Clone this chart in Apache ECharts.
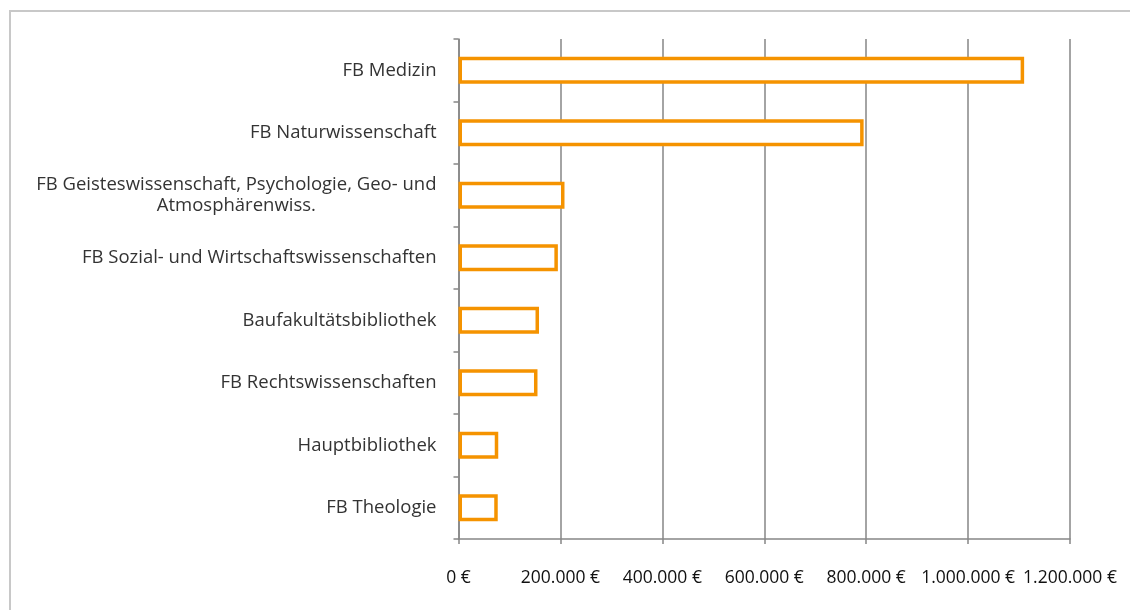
<!DOCTYPE html>
<html>
<head>
<meta charset="utf-8">
<script src="https://cdn.jsdelivr.net/npm/echarts@6/dist/echarts.min.js"></script>
<style>
html,body{margin:0;padding:0;background:#fff;}
#chart{width:1130px;height:610px;}
</style>
</head>
<body>
<div id="chart"></div>
<script>
var categories = [
  "FB Medizin",
  "FB Naturwissenschaft",
  "FB Geisteswissenschaft, Psychologie, Geo- und\nAtmosphärenwiss.",
  "FB Sozial- und Wirtschaftswissenschaften",
  "Baufakultätsbibliothek",
  "FB Rechtswissenschaften",
  "Hauptbibliothek",
  "FB Theologie"
];
var values = [1110000, 795000, 208000, 195000, 158000, 155000, 78000, 77000];
var xMin = 0, xMax = 1200000, xStep = 200000;

function euro(v) {
  return String(Math.round(v)).replace(/\B(?=(\d{3})+(?!\d))/g, ".") + " €";
}

var chart = echarts.init(document.getElementById('chart'), null, {renderer: 'canvas'});
chart.setOption({
  animation: false,
  backgroundColor: '#ffffff',
  graphic: [{
    type: 'rect',
    shape: {x: 10, y: 11, width: 1200, height: 700},
    style: {fill: 'none', stroke: '#c8c8c8', lineWidth: 2},
    silent: true
  }],
  grid: {left: 458.5, right: 60, top: 39, bottom: 71, containLabel: false},
  xAxis: {
    type: 'value',
    min: xMin, max: xMax, interval: xStep,
    axisLine: {show: true, lineStyle: {color: '#868686', width: 1.5}},
    axisTick: {show: true, length: 5, inside: false, lineStyle: {color: '#868686', width: 1.5}},
    splitLine: {show: true, lineStyle: {color: '#868686', width: 1.5}},
    axisLabel: {
      margin: 30,
      color: '#111111',
      fontFamily: 'Open Sans',
      fontSize: 17.5,
      formatter: euro
    }
  },
  yAxis: {
    type: 'category',
    inverse: true,
    data: categories,
    axisLine: {show: true, lineStyle: {color: '#868686', width: 1.5}},
    axisTick: {show: true, length: 5, inside: false, alignWithLabel: false, lineStyle: {color: '#868686', width: 1.5}},
    axisLabel: {
      margin: 22,
      color: '#333333',
      fontFamily: 'Open Sans',
      fontSize: 18.5,
      lineHeight: 21,
      formatter: function (v) {
        return v.split('\n').map(function (l) { return '{c|' + l + '}'; }).join('\n');
      },
      rich: {c: {align: 'center', fontFamily: 'Open Sans', fontSize: 18.5, color: '#333333', lineHeight: 21}}
    }
  },
  series: [{
    type: 'bar',
    data: values,
    barWidth: 27,
    itemStyle: {color: '#ffffff', borderColor: '#F59300', borderWidth: 3.5}
  }]
});
</script>
</body>
</html>
